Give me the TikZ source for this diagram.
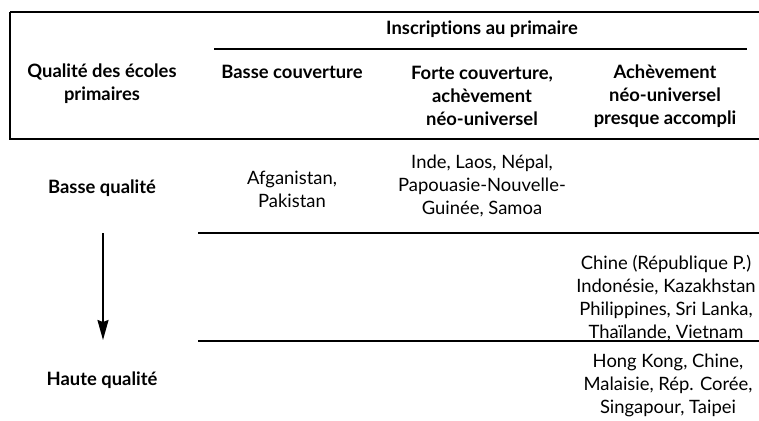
\documentclass[tikz,border=0pt]{standalone}
\usepackage{fontspec}
\setmainfont{Lato}[Ligatures=NoCommon]
\usetikzlibrary{arrows.meta}
\begin{document}
\begin{tikzpicture}[x=1pt,y=-1pt,
  txt/.style={align=center,font=\fontsize{18.4}{23}\selectfont,inner sep=0pt},
  hdr/.style={txt,font=\fontsize{18.4}{23}\selectfont\bfseries},
  rule/.style={line width=1.3pt},
  every node/.append style={anchor=center}]
\useasboundingbox (0,0) rectangle (759,420);
\clip (0,0) rectangle (759,420);
% frame
\draw[rule] (10,12) -- (780,12);
\draw[rule] (10,12) -- (10,139) -- (780,139);
\coordinate (l1a) at (214,49); \coordinate (l1b) at (747,49);
\draw[rule] (l1a) -- (l1b);
% headers
\node[hdr] (insc) at (482,29) {Inscriptions au primaire};
\node[hdr] (qual) at (102,84) {Qualité des écoles\\primaires};
\node[hdr] (c1) at (292,72) {Basse couverture};
\node[hdr] (c2) at (482,96) {Forte couverture,\\achèvement\\néo-universel};
\node[hdr] (c3) at (665,96) {Achèvement\\néo-universel\\presque accompli};
% rows
\node[hdr] (bq) at (102,188) {Basse qualité};
\node[hdr] (hq) at (102,380) {Haute qualité};
\node[txt] (r1a) at (292,189) {Afganistan,\\Pakistan};
\node[txt] (r1b) at (482,186) {Inde, Laos, Népal,\\Papouasie-Nouvelle-\\Guinée, Samoa};
\node[txt] (r2) at (666,298) {Chine (République P.)\\Indonésie, Kazakhstan\\Philippines, Sri Lanka,\\Thaïlande, Vietnam};
\node[txt] (r3) at (668,385) {Hong Kong, Chine,\\Malaisie, Rép. Corée,\\Singapour, Taipei};
% separators
\coordinate (s1a) at (198,233); \coordinate (s1b) at (780,233);
\coordinate (s2a) at (198,341); \coordinate (s2b) at (780,341);
\draw[rule] (s1a) -- (s1b);
\draw[rule] (s2a) -- (s2b);
% arrow
\coordinate (a1) at (103,233); \coordinate (a2) at (103,340);
\draw[line width=1.8pt,-{Stealth[length=20pt,width=11pt,inset=2pt]}] (a1) -- (a2);
\end{tikzpicture}
\end{document}
